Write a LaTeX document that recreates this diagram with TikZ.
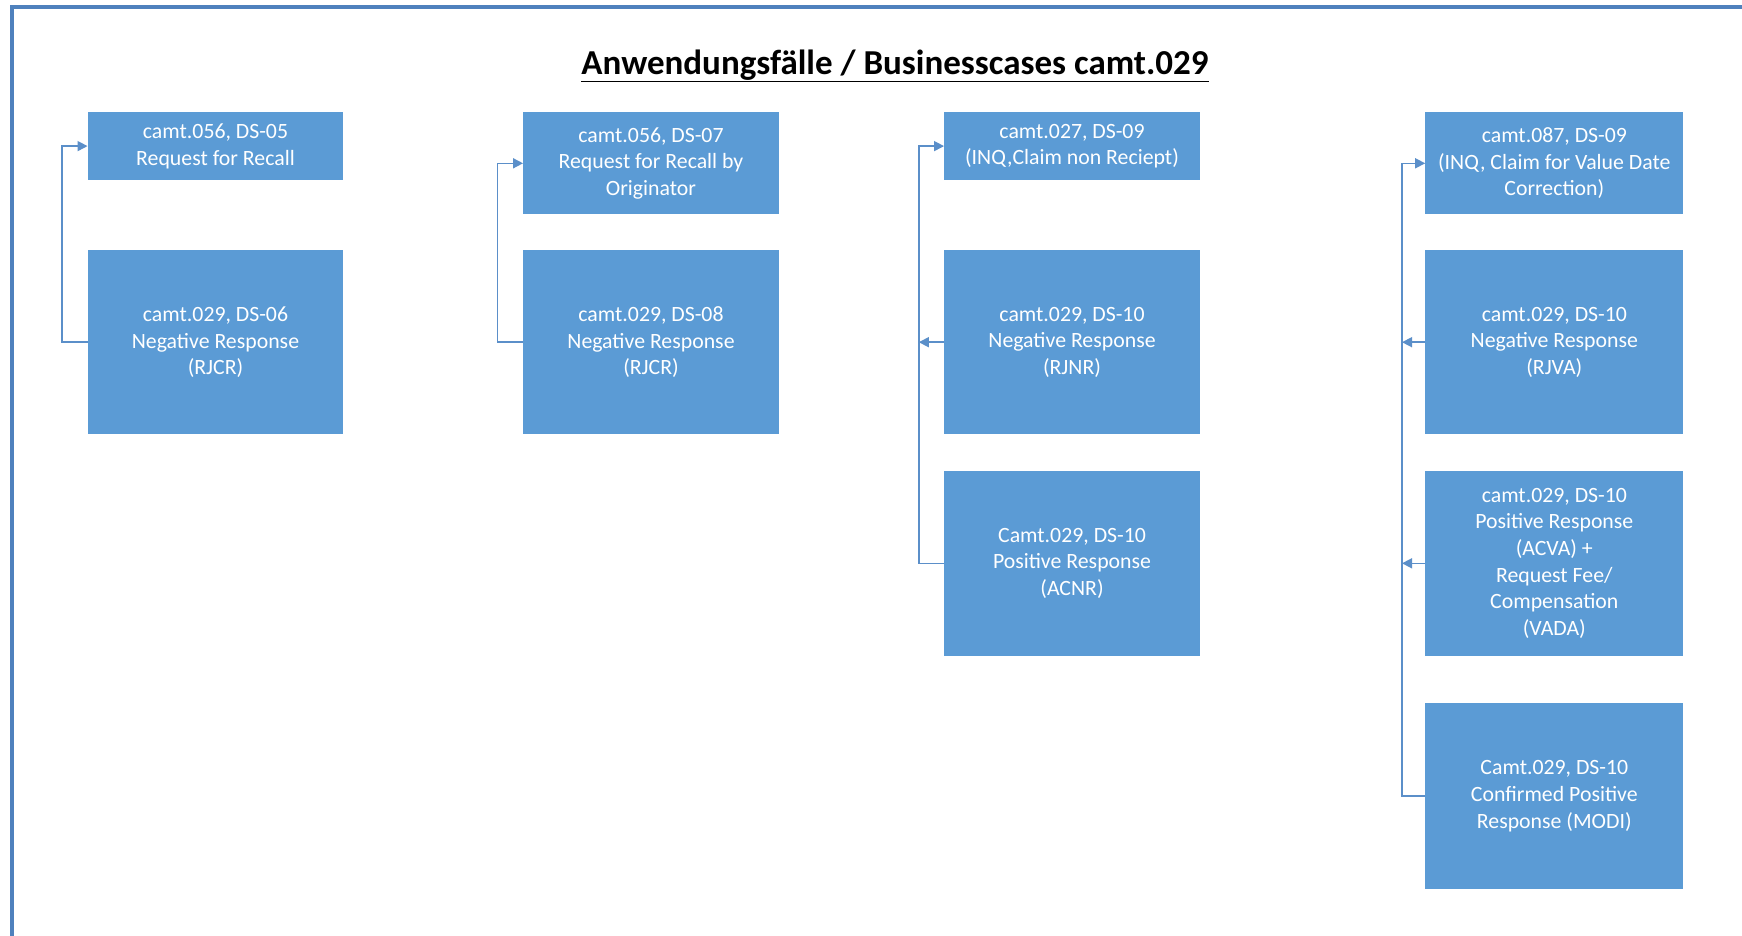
\documentclass[tikz,border=0pt]{standalone}
\usepackage{fontspec}
\setmainfont{Carlito}
\usetikzlibrary{arrows.meta}
\definecolor{boxblue}{HTML}{5B9BD5}
\definecolor{frameblue}{HTML}{4F81BD}
\definecolor{lineblue}{HTML}{5B8FC9}
\tikzset{
  box/.style={fill=boxblue, draw=none, text=white, align=center, inner sep=0pt,
    font=\fontsize{21.8}{26.7}\selectfont},
  conn/.style={draw=lineblue, line width=1.5pt, -{Triangle[length=10pt,width=10pt]}},
  frame/.style={draw=frameblue, line width=4.5pt},
}
\begin{document}
\begin{tikzpicture}[x=1pt,y=-1pt]
\useasboundingbox (0,0) rectangle (1742,936);
\fill[white] (0,0) rectangle (1742,936);
% frame
\draw[frame] (12,936) -- (12,7) -- (1742,7);
% title
\node[font=\fontsize{35}{40}\selectfont\bfseries] (title) at (895,66) {\underline{Anwendungsfälle / Businesscases camt.029}};
% column 1
\node[box, minimum width=255.5pt, minimum height=67.8pt] (a1) at (215.5,146.1) {camt.056, DS-05\\Request for Recall};
\node[box, minimum width=255.5pt, minimum height=184.4pt] (a2) at (215.5,342.2) {camt.029, DS-06\\Negative Response\\(RJCR)};
% column 2
\node[box, minimum width=255.5pt, minimum height=102.2pt] (b1) at (651,163.3) {camt.056, DS-07\\Request for Recall by\\Originator};
\node[box, minimum width=255.5pt, minimum height=184.4pt] (b2) at (651,342.2) {camt.029, DS-08\\Negative Response\\(RJCR)};
% column 3
\node[box, minimum width=255.5pt, minimum height=67.8pt] (c1) at (1072,146.1) {camt.027, DS-09\\(INQ,Claim non Reciept)};
\node[box, minimum width=255.5pt, minimum height=184.4pt] (c2) at (1072,342.2) {camt.029, DS-10\\Negative Response\\(RJNR)};
\node[box, minimum width=255.5pt, minimum height=184.5pt] (c3) at (1072,563.3) {Camt.029, DS-10\\Positive Response\\(ACNR)};
% column 4
\node[box, minimum width=257.8pt, minimum height=102.2pt] (d1) at (1554.3,163.3) {camt.087, DS-09\\(INQ, Claim for Value Date\\Correction)};
\node[box, minimum width=257.8pt, minimum height=184.4pt] (d2) at (1554.3,342.2) {camt.029, DS-10\\Negative Response\\(RJVA)};
\node[box, minimum width=257.8pt, minimum height=184.5pt] (d3) at (1554.3,563.3) {camt.029, DS-10\\Positive Response\\(ACVA) +\\Request Fee/\\Compensation\\(VADA)};
\node[box, minimum width=257.8pt, minimum height=185.5pt] (d4) at (1554.3,796) {Camt.029, DS-10\\Confirmed Positive\\Response (MODI)};
% bus coordinates
\coordinate (l1) at (62.2,0);
\coordinate (l2) at (497.7,0);
\coordinate (l3) at (918.8,0);
\coordinate (l4) at (1402,0);
% connectors
\draw[conn] (a2.west) -- (a2.west -| l1) |- (a1.west);
\draw[conn] (b2.west) -- (b2.west -| l2) |- (b1.west);
\draw[conn] (c3.west) -- (c3.west -| l3) |- (c1.west);
\draw[conn] (c2.west) -- (c2.west -| l3);
\draw[conn] (d4.west) -- (d4.west -| l4) |- (d1.west);
\draw[conn] (d2.west) -- (d2.west -| l4);
\draw[conn] (d3.west) -- (d3.west -| l4);
\end{tikzpicture}
\end{document}
